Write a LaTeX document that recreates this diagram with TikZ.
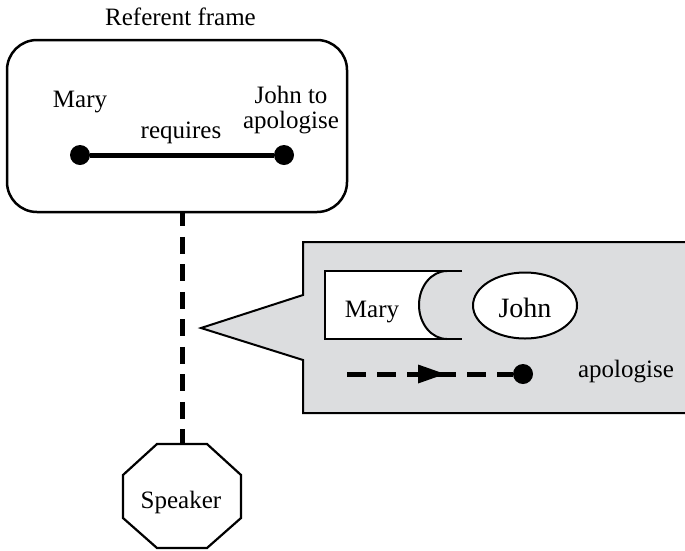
\documentclass[tikz,border=0pt]{standalone}
\usepackage{fontspec}
\setmainfont{Liberation Serif}
\usetikzlibrary{decorations.markings, shapes.geometric}
\definecolor{bubblegray}{RGB}{220,221,223}
\tikzset{
  lbl/.style={font=\fontsize{25}{25}\selectfont, inner sep=0pt, anchor=base},
  bigdot/.style={circle, fill=black, inner sep=0pt, minimum size=20pt},
  thinline/.style={line width=2pt, line join=miter},
  dashconn/.style={line width=5pt, dash pattern=on 17pt off 10.5pt, dash phase=4pt},
  dasharrow/.style={line width=5pt, dash pattern=on 19pt off 11pt,
    postaction={decorate},
    decoration={markings, mark=at position 98pt with
      {\fill[solid] (0pt,0pt) -- (-27pt,9.5pt) -- (-27pt,-9.5pt) -- cycle;}}}
}
\begin{document}
\begin{tikzpicture}[x=1pt, y=-1pt]
\useasboundingbox (0,0) rectangle (685,550);

% referent frame
\node[lbl] (title) at (180.5,25) {Referent frame};
\node[draw, line width=2.5pt, rounded corners=30pt, minimum width=340pt,
      minimum height=172pt, inner sep=0pt] (frame) at (177,126) {};
\node[lbl] (mary) at (80,107) {Mary};
\node[lbl, align=center, anchor=center] (john) at (291,110) {John to\\apologise};
\node[lbl] (req) at (181,138) {requires};
\node[bigdot] (mdot) at (80,155) {};
\node[bigdot] (jdot) at (284,155) {};
\draw[line width=5pt] (mdot) -- (jdot);

% speech bubble
\path[fill=bubblegray, draw=black, thinline]
  (303,242) -- (700,242) -- (700,413) -- (303,413) -- (303,360)
  -- (201,328) -- (303,295) -- cycle;

% Mary box with concave right side
\path[fill=white] (325,271) -- (447,271) arc[start angle=270, end angle=90,
  x radius=28, y radius=34] -- (325,339) -- cycle;
\draw[thinline] (462,271) -- (325,271) -- (325,339) -- (462,339);
\draw[thinline] (447,271) arc[start angle=270, end angle=90,
  x radius=28, y radius=34];
\node[lbl] (bmary) at (372,317) {Mary};

% John ellipse
\node[draw, thinline, fill=white, ellipse, minimum width=104pt,
      minimum height=66pt, inner sep=0pt] (bjohn) at (525,305.5) {};
\node[lbl, font=\fontsize{28}{28}\selectfont] (bjohntxt) at (525,317) {John};

% dashed path with arrow
\coordinate (astart) at (347,374);
\node[bigdot] (adot) at (523,374) {};
\draw[dasharrow] (astart) -- (adot);
\node[lbl] (apol) at (626,377) {apologise};

% speaker octagon
\draw[line width=2.2pt, line join=miter] (157,444) -- (207,444) -- (241,475) -- (241,518)
  -- (207,548) -- (157,548) -- (123,518) -- (123,475) -- cycle;
\coordinate (sptop) at (182,444);
\node[lbl] (speaker) at (181,508) {Speaker};

% connector from frame to speaker
\draw[dashconn] (frame.south -| sptop) -- (sptop);
\end{tikzpicture}
\end{document}
